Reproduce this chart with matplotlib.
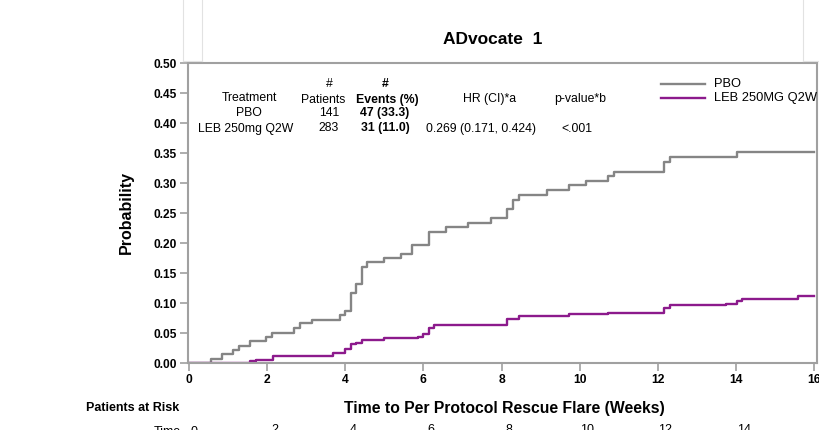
import numpy as np
import matplotlib
matplotlib.use("Agg")
import matplotlib.pyplot as plt
from matplotlib.lines import Line2D
import matplotlib.transforms as mtransforms

plt.rcParams['font.family'] = ['Liberation Sans', 'DejaVu Sans']

# Cumulative probability step curves (weeks, probability after step)
pbo_t = [0, 0.55, 0.85, 1.13, 1.27, 1.56, 1.98, 2.13, 2.69, 2.84, 3.14, 3.86, 3.99,
         4.14, 4.27, 4.42, 4.55, 4.99, 5.42, 5.70, 6.15, 6.57, 7.15, 7.73, 8.15,
         8.29, 8.44, 9.16, 9.74, 10.16, 10.73, 10.87, 12.15, 12.31, 14.02, 16.0]
pbo_p = [0, 0.007, 0.015, 0.022, 0.029, 0.036, 0.043, 0.050, 0.058, 0.066, 0.072,
         0.080, 0.087, 0.116, 0.131, 0.160, 0.168, 0.175, 0.182, 0.197, 0.219,
         0.227, 0.234, 0.242, 0.257, 0.272, 0.280, 0.288, 0.296, 0.303, 0.312,
         0.319, 0.335, 0.344, 0.351, 0.351]

leb_t = [0, 1.56, 1.70, 2.14, 3.69, 3.99, 4.14, 4.27, 4.42, 4.99, 5.85, 6.00, 6.15,
         6.28, 8.15, 8.44, 9.74, 10.73, 12.15, 12.31, 13.74, 14.02, 14.16, 15.60, 16.0]
leb_p = [0, 0.003, 0.005, 0.012, 0.017, 0.023, 0.031, 0.034, 0.038, 0.041, 0.044,
         0.049, 0.058, 0.063, 0.073, 0.078, 0.081, 0.084, 0.092, 0.096, 0.099,
         0.103, 0.107, 0.111, 0.111]

x_ticks = [0, 2, 4, 6, 8, 10, 12, 14, 16]
y_ticks = [0.00, 0.05, 0.10, 0.15, 0.20, 0.25, 0.30, 0.35, 0.40, 0.45, 0.50]
risk_times = [2, 4, 6, 8, 10, 12, 14]

table_rows = [
    ["Treatment", "PBO", "LEB 250mg Q2W"],
    ["141", "283"],
    ["47 (33.3)", "31 (11.0)"],
]

c_pbo = "#858585"
c_leb = "#8c1a8c"
spine_c = "#a0a0a0"

fig = plt.figure(figsize=(8.2, 4.3), dpi=100)
W, H = 820, 430
ax = fig.add_axes([188 / W, 1 - 363 / H, (817 - 188) / W, (363 - 63) / H])

ax.step(pbo_t, pbo_p, where="post", color=c_pbo, lw=1.7)
ax.step(leb_t, leb_p, where="post", color=c_leb, lw=1.7)

ax.set_xlim(-0.03, 16.08)
ax.set_ylim(0, 0.5)
ax.set_xticks(x_ticks)
ax.set_yticks(y_ticks)
ax.set_xticklabels([str(t) for t in x_ticks], fontweight="bold", fontsize=8.7)
ax.set_yticklabels([f"{v:.2f}" for v in y_ticks], fontweight="bold", fontsize=8.6)
ax.tick_params(axis="both", direction="out", length=6, width=1.2, color=spine_c, pad=2)
for s in ax.spines.values():
    s.set_color(spine_c)
    s.set_linewidth(1.5)

ax.set_ylabel("Probability", fontweight="bold", fontsize=11.5, labelpad=14)

# title
fig.text(493 / W, 1 - 40 / H, "ADvocate  1", ha="center", va="center",
         fontweight="bold", fontsize=12.5)

# summary table
def ftxt(x, y, s, bold=False, ha="center"):
    fig.text(x / W, 1 - y / H, s, ha=ha, va="center", fontsize=8.8,
             fontweight="bold" if bold else "normal")

ftxt(329, 84, "#")
ftxt(385, 84, "#", bold=True)
ftxt(249, 98, table_rows[0][0])
ftxt(249, 113, table_rows[0][1])
ftxt(246, 129, table_rows[0][2])
ftxt(323, 100, "Patients")
ftxt(329, 113, table_rows[1][0])
ftxt(329, 128, table_rows[1][1])
ftxt(387, 100, "Events (%)", bold=True)
ftxt(385, 113, table_rows[2][0], bold=True)
ftxt(385, 128, table_rows[2][1], bold=True)
ftxt(490, 99, "HR (CI)*a")
ftxt(481, 129, "0.269 (0.171, 0.424)")
ftxt(580, 99, "p-value*b")
ftxt(577, 129, "<.001")

# legend
for yy, col, lab in [(84, c_pbo, "PBO"), (98, c_leb, "LEB 250MG Q2W")]:
    fig.add_artist(Line2D([661 / W, 705 / W], [1 - yy / H, 1 - yy / H],
                          color=col, lw=1.7))
    fig.text(714 / W, 1 - yy / H, lab, ha="left", va="center", fontsize=9.3)

# faint slide box edges
for xs, ys in [([183, 183], [0, 61]), ([202, 202], [0, 61]), ([183, 202], [61, 61]),
               ([803, 803], [0, 61]), ([803, 820], [61, 61])]:
    fig.add_artist(Line2D([x / W for x in xs], [1 - y / H for y in ys],
                          color="#e2e2e2", lw=0.8))

# x label and patients at risk
fig.text(504 / W, 1 - 408 / H, "Time to Per Protocol Rescue Flare (Weeks)",
         ha="center", va="center", fontweight="bold", fontsize=11.3)
fig.text(133 / W, 1 - 408 / H, "Patients at Risk", ha="center", va="center",
         fontweight="bold", fontsize=9)

trans = mtransforms.blended_transform_factory(ax.transData, fig.transFigure)
fig.text(181 / W, 1 - 426 / H, "Time", ha="right", va="top", fontsize=9)
ax.text(0.13, 1 - 426 / H, "0", transform=trans, ha="center", va="top",
        fontsize=9, clip_on=False)
for t in risk_times:
    ax.text(t + 0.2, 1 - 424 / H, str(t), transform=trans, ha="center", va="top",
            fontsize=9, clip_on=False)

fig.savefig("out.png", dpi=100)
